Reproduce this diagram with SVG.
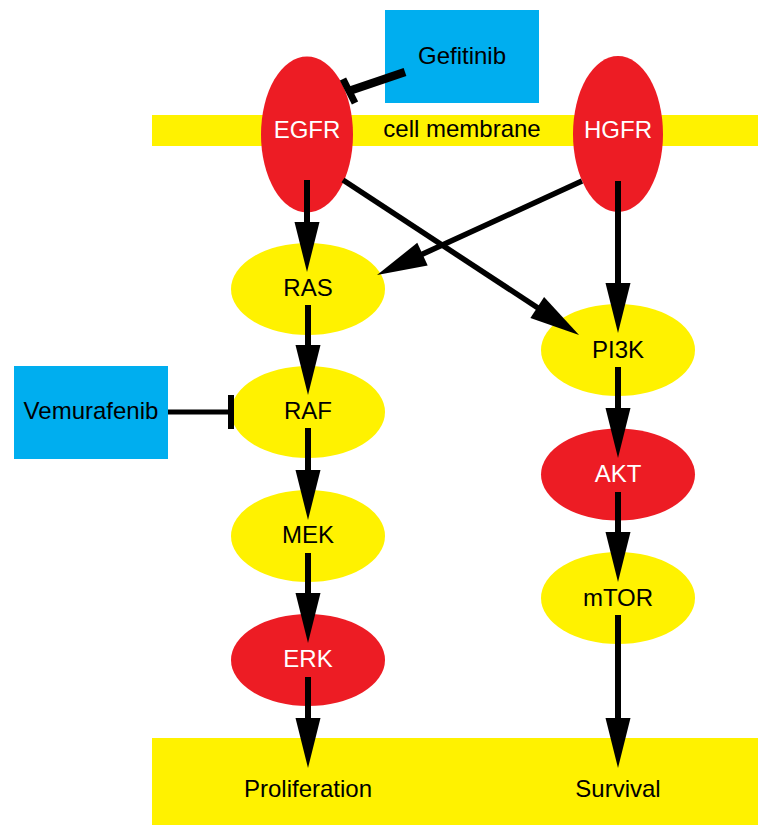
<svg xmlns="http://www.w3.org/2000/svg" width="758" height="825" viewBox="0 0 758 825">
<style>
text{font-family:"Liberation Sans",Arial,sans-serif;font-size:24px;text-anchor:middle}
.red{fill:#ED1C24}
.yel{fill:#FFF200}
.blue{fill:#00AEEF}
.w{fill:#FFFFFF}
.k{fill:#000000}
.arr{stroke:#000;stroke-width:6;fill:none;marker-end:url(#ah)}
.diag{stroke:#000;stroke-width:5.5;fill:none;marker-end:url(#ah)}
.inh{stroke:#000;fill:none}
</style>
<defs>
<marker id="ah" markerUnits="userSpaceOnUse" markerWidth="50" markerHeight="25" refX="10" refY="12.5" orient="auto" overflow="visible">
<path d="M0,0 L50,12.5 L0,25 z" fill="#000"/>
</marker>
</defs>
<rect width="758" height="825" fill="#fff"/>
<g id="membrane">
<rect class="yel" x="152" y="115" width="606" height="31"/>
<text class="k" x="462" y="137">cell membrane</text>
</g>
<g id="outcome">
<rect class="yel" x="152" y="738" width="606" height="87"/>
</g>
<g id="gefitinib">
<rect class="blue" x="385" y="10" width="154" height="93"/>
<text class="k" x="462" y="64">Gefitinib</text>
</g>
<g id="vemurafenib">
<rect class="blue" x="14" y="366" width="154" height="93"/>
<text class="k" x="91" y="419">Vemurafenib</text>
</g>
<g id="EGFR">
<ellipse class="red" cx="307" cy="134.5" rx="46" ry="78"/>
<text class="w" x="307" y="138">EGFR</text>
</g>
<g id="HGFR">
<ellipse class="red" cx="618" cy="134" rx="45" ry="78"/>
<text class="w" x="618" y="138">HGFR</text>
</g>
<g id="RAS">
<ellipse class="yel" cx="308" cy="289" rx="77" ry="46"/>
<text class="k" x="308" y="296">RAS</text>
</g>
<g id="RAF">
<ellipse class="yel" cx="308" cy="412" rx="77" ry="46"/>
<text class="k" x="308" y="419">RAF</text>
</g>
<g id="MEK">
<ellipse class="yel" cx="308" cy="536" rx="77" ry="46"/>
<text class="k" x="308" y="543">MEK</text>
</g>
<g id="ERK">
<ellipse class="red" cx="308" cy="660" rx="77" ry="46"/>
<text class="w" x="308" y="667">ERK</text>
</g>
<g id="PI3K">
<ellipse class="yel" cx="618" cy="350" rx="77" ry="46"/>
<text class="k" x="618" y="358">PI3K</text>
</g>
<g id="AKT">
<ellipse class="red" cx="618" cy="474.5" rx="77" ry="46"/>
<text class="w" x="618" y="482">AKT</text>
</g>
<g id="mTOR">
<ellipse class="yel" cx="618" cy="598" rx="77" ry="46"/>
<text class="k" x="618" y="606">mTOR</text>
</g>
<g id="Proliferation">
<text class="k" x="308" y="797">Proliferation</text>
</g>
<g id="Survival">
<text class="k" x="618" y="797">Survival</text>
</g>
<g id="connectors">
<line class="arr" x1="307" y1="180" x2="307" y2="232"/>
<line class="arr" x1="308" y1="305" x2="308" y2="355"/>
<line class="arr" x1="308" y1="428" x2="308" y2="480"/>
<line class="arr" x1="308" y1="553" x2="308" y2="603"/>
<line class="arr" x1="308" y1="677" x2="308" y2="728"/>
<line class="arr" x1="618" y1="181" x2="618" y2="293"/>
<line class="arr" x1="618" y1="367" x2="618" y2="418"/>
<line class="arr" x1="618" y1="492" x2="618" y2="542"/>
<line class="arr" x1="618" y1="615" x2="618" y2="728"/>
<line class="diag" x1="343" y1="180" x2="545.6" y2="313"/>
<line class="diag" x1="582" y1="181" x2="413.4" y2="258.3"/>
<line class="inh" stroke-width="8.5" x1="405" y1="72" x2="349" y2="91"/>
<line class="inh" stroke-width="7" x1="343" y1="79" x2="355" y2="103"/>
<line class="inh" stroke-width="5" x1="168" y1="412" x2="231" y2="412"/>
<line class="inh" stroke-width="6" x1="231" y1="395" x2="231" y2="429"/>
</g>
</svg>
